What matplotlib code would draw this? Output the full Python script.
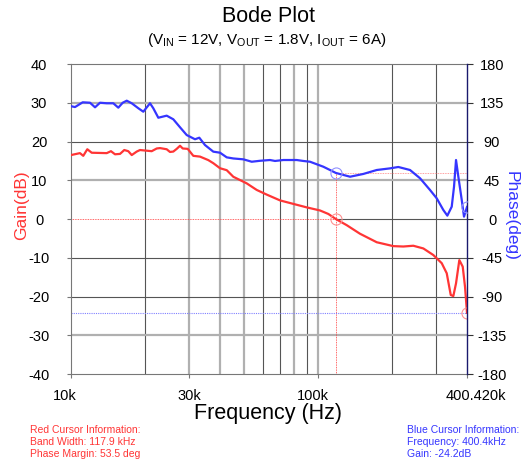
import matplotlib
matplotlib.use("Agg")
import matplotlib.pyplot as plt
import matplotlib.transforms as mtransforms


# Settings

plt.rcParams['font.family'] = ['Liberation Sans', 'DejaVu Sans']
plt.rcParams['mathtext.fontset'] = 'custom'
plt.rcParams['mathtext.rm'] = 'Liberation Sans'
plt.rcParams['axes.unicode_minus'] = False

RED = "#ff3535"
BLUE = "#3535ff"

# Data (frequency in kHz)

gain_freq = [10.0, 10.87, 11.21, 11.64, 12.13, 13.95, 14.51, 15.07, 15.79, 16.43,
             17.05, 17.61, 18.45, 19.02, 21.21, 22.23, 22.92, 24.39, 25.15, 25.94,
             26.78, 27.62, 28.32, 29.67, 31.26, 33.27, 35.94, 37.66, 40.09, 42.67,
             45.38, 51.4, 56.43, 61.94, 70.13, 79.36, 89.93, 101.8, 110.0, 117.9,
             130.6, 147.7, 172.7, 201.5, 221.2, 242.8, 266.6, 292.6, 316.4, 331.5,
             344.1, 352.5, 361.5, 372.8, 384.8, 393.1, 400.4]
gain_db = [16.5, 17.0, 16.3, 18.0, 17.1, 17.0, 17.5, 16.7, 16.8, 17.8,
           17.5, 16.5, 17.4, 17.8, 17.5, 18.2, 18.3, 18.0, 17.3, 17.4,
           18.1, 18.9, 18.2, 18.1, 16.3, 16.1, 15.2, 14.4, 13.1, 12.6,
           10.9, 9.2, 7.5, 6.3, 4.8, 3.9, 3.0, 2.2, 1.3, 0.0,
           -1.6, -3.8, -6.0, -7.0, -7.1, -6.9, -7.6, -9.3, -11.4, -14.0,
           -19.6, -19.9, -16.6, -10.6, -12.3, -17.5, -24.2]

phase_freq = [10.0, 10.38, 11.15, 11.94, 12.51, 13.1, 13.95, 14.83, 15.54, 16.19,
              16.81, 17.61, 18.73, 19.62, 20.88, 21.53, 22.56, 24.39, 25.94, 27.62,
              29.39, 31.76, 33.05, 34.85, 37.66, 40.09, 42.67, 45.38, 49.82, 53.87,
              58.2, 63.88, 66.93, 72.32, 81.92, 87.11, 92.73, 105.0, 111.7, 117.9,
              134.7, 152.3, 172.7, 195.4, 211.2, 235.5, 258.5, 283.7, 302.0, 321.1,
              333.4, 347.3, 354.8, 361.5, 369.4, 381.3, 389.4, 400.4]
phase_deg = [131, 130, 135.5, 135, 129.7, 135, 134.4, 134.4, 129.3, 135,
             137.4, 134.4, 128.6, 124.6, 134.4, 128.6, 117.6, 120, 115.8, 106.5,
             97.5, 92.6, 94.4, 85.9, 78.2, 77, 71.6, 70.3, 69.3, 66.5,
             67.6, 68.5, 67.4, 68.5, 68.5, 67.4, 66.5, 60.7, 56.9, 53.5,
             49.1, 52.3, 56.9, 58.8, 60.4, 56.9, 47.3, 33.7, 24, 10.5,
             3.9, 14.3, 37.5, 68.5, 49.1, 22.1, 2.7, 14]

bandwidth = 117.9       # kHz
phase_margin = 53.5     # deg
cursor_freq = 400.4     # kHz
cursor_gain = -24.2     # dB
cursor_phase = 14       # deg
f_min, f_max = 10.0, 400.42

x_ticks = [10, 30, 100, 400.42]
x_ticklabels = ["10k", "30k", "100k", "400.420k"]
x_label_shift = [-6, 0, -5, 9]   # px, nudges to match the original layout
gain_ticks = [40, 30, 20, 10, 0, -10, -20, -30, -40]
phase_ticks = [180, 135, 90, 45, 0, -45, -90, -135, -180]

vgrid_dark = [20, 60, 70, 90, 200, 300]
vgrid_light = [30, 40, 50, 80, 100]
hgrid_dark = [20, -10, -20]
hgrid_light = [30, 10, -30]


def main():
    fig = plt.figure(figsize=(5.27, 4.65), dpi=100)
    ax = fig.add_axes([71 / 527, 91 / 465, 396 / 527, 310 / 465])
    ax2 = ax.twinx()

    # grid
    for f in vgrid_light:
        ax.axvline(f, color="#b0b0b0", lw=1.6, zorder=1)
    for f in vgrid_dark:
        ax.axvline(f, color="#555555", lw=0.8, zorder=1)
    for g in hgrid_light:
        ax.axhline(g, color="#b0b0b0", lw=1.6, zorder=1)
    for g in hgrid_dark:
        ax.axhline(g, color="#555555", lw=0.8, zorder=1)
    ax.plot([bandwidth, f_max], [0, 0], color="#555555", lw=0.8, zorder=1)

    # cursors
    ax.plot([f_min, bandwidth], [0, 0], color=RED, lw=0.6, ls=(0, (1, 1)), zorder=2)
    ax.plot([bandwidth, bandwidth], [-40, phase_margin / 4.5], color=RED, lw=0.6,
            ls=(0, (1, 1)), zorder=2)
    ax2.plot([bandwidth, f_max], [phase_margin, phase_margin], color="#ff8080", lw=0.6,
             ls=(0, (1, 1)), zorder=2)
    ax.plot([f_min, f_max], [cursor_gain, cursor_gain], color="#8080ff", lw=0.8,
            ls=(0, (1, 1)), zorder=2)

    # curves
    ax.plot(gain_freq, gain_db, color=RED, lw=1.6, zorder=3)
    ax2.plot(phase_freq, phase_deg, color=BLUE, lw=1.6, zorder=3)

    ax.plot([bandwidth], [0], "o", ms=8, mfc="none", mec="#ff9090", mew=0.8, zorder=4)
    ax2.plot([bandwidth], [phase_margin], "o", ms=8, mfc="none", mec="#9090ff", mew=0.8, zorder=4)
    ax.plot([cursor_freq], [cursor_gain], "o", ms=8, mfc="none", mec="#ff9090", mew=0.8, zorder=4)
    ax2.plot([cursor_freq], [cursor_phase], "o", ms=8, mfc="none", mec="#9090ff", mew=0.8, zorder=4)

    # axes
    ax.set_xscale("log")
    ax.set_xlim(f_min, f_max)
    ax.set_ylim(-40, 40)
    ax2.set_ylim(-180, 180)
    ax.set_xticks(x_ticks)
    ax.set_xticklabels(x_ticklabels)
    ax.xaxis.set_minor_locator(matplotlib.ticker.NullLocator())
    ax.set_yticks(gain_ticks)
    ax2.set_yticks(phase_ticks)

    ax.tick_params(axis="x", length=3, width=0.8, color="#777777", pad=8, labelsize=10.5)
    ax.tick_params(axis="y", length=3, width=0.8, color="#777777", pad=20, labelsize=10.5)
    ax2.tick_params(axis="y", length=4, width=0.8, color="#333333", pad=14, labelsize=10.5)
    for lbl in ax.get_yticklabels():
        lbl.set_horizontalalignment("center")
    for lbl in ax2.get_yticklabels():
        lbl.set_horizontalalignment("center")
    for lbl, dx in zip(ax.get_xticklabels(), x_label_shift):
        lbl.set_transform(lbl.get_transform()
                          + mtransforms.ScaledTranslation(dx / 100, 0, fig.dpi_scale_trans))

    for s in ["left", "top", "bottom"]:
        ax.spines[s].set_color("#777777")
        ax.spines[s].set_linewidth(0.8)
    for s in ["left", "top", "bottom"]:
        ax2.spines[s].set_visible(False)
    ax2.spines["right"].set_color("#1a1a6e")
    ax2.spines["right"].set_linewidth(1.0)
    ax.spines["right"].set_visible(False)

    # labels
    fig.text(22 / 527, 1 - 205 / 465, "Gain(dB)", color=RED, fontsize=12.5,
             rotation=90, ha="center", va="center")
    fig.text(511 / 527, 1 - 216 / 465, "Phase(deg)", color=BLUE, fontsize=12.5,
             rotation=270, ha="center", va="center")
    fig.text(268 / 527, 1 - 413 / 465, "Frequency (Hz)", fontsize=15.5,
             ha="center", va="center")
    fig.text(269 / 527, 1 - 17 / 465, "Bode Plot", fontsize=15.5, ha="center", va="center")
    fig.text(267 / 527, 1 - 40 / 465,
             r"($\mathrm{V_{IN}}$ = 12V, $\mathrm{V_{OUT}}$ = 1.8V, $\mathrm{I_{OUT}}$ = 6A)",
             fontsize=11, ha="center", va="center")

    red_info = ["Red Cursor Information:",
                f"Band Width: {bandwidth} kHz",
                f"Phase Margin: {phase_margin} deg"]
    blue_info = ["Blue Cursor Information:",
                 f"Frequency: {cursor_freq}kHz",
                 f"Gain: {cursor_gain}dB"]
    for i, (r, b) in enumerate(zip(red_info, blue_info)):
        y = 1 - (430 + 12 * i) / 465
        fig.text(30 / 527, y, r, color=RED, fontsize=7.5, va="center")
        fig.text(407 / 527, y, b, color=BLUE, fontsize=7.5, va="center")

    fig.savefig("out.png", dpi=100)
    print("Saved out.png")


if __name__ == "__main__":
    main()
